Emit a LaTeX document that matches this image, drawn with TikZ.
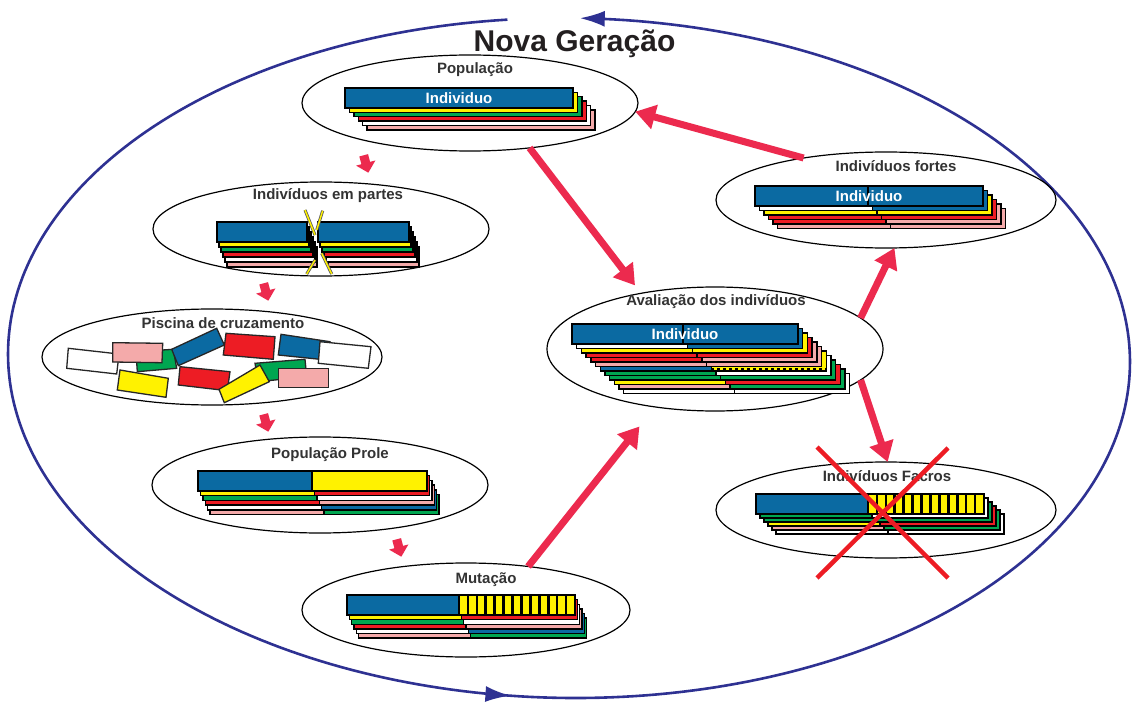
\documentclass[tikz,border=0pt]{standalone}
\usepackage{fontspec}
\setmainfont{Liberation Sans}
\usetikzlibrary{shapes.geometric,arrows.meta,decorations.markings}
\definecolor{gblue}{HTML}{0B6AA2}
\definecolor{gyellow}{HTML}{FFF200}
\definecolor{ggreen}{HTML}{00A651}
\definecolor{gred}{HTML}{ED1C24}
\definecolor{gpink}{HTML}{F4AAAA}
\definecolor{arrred}{HTML}{EC2A4E}
\definecolor{loopblue}{HTML}{2E3192}
\definecolor{txtgray}{HTML}{333333}
\definecolor{titlecol}{HTML}{231F20}
\tikzset{
  ell/.style={draw=black, line width=1.2pt, ellipse, inner sep=0pt, outer sep=0pt},
  lbl/.style={font=\fontsize{15}{18}\selectfont\bfseries, text=txtgray, inner sep=0pt, anchor=base},
  indiv/.style={font=\fontsize{15}{18}\selectfont\bfseries, text=white, inner sep=0pt, anchor=base},
  titlestyle/.style={font=\fontsize{30}{36}\selectfont\bfseries, text=titlecol, inner sep=0pt, anchor=base},
  stk/.style={draw=black, line width=1.4pt},
  pool/.style={draw=black!85, line width=1.3pt},
  bigarrow/.style={draw=arrred, line width=7pt, -{Triangle[length=20pt,width=24pt]}},
  outerloop/.style={draw=loopblue, line width=2.6pt},
  looptip/.style={Latex[length=25pt,width=16pt]},
  cutout/.style={draw=black!65, line width=3pt},
  cutin/.style={draw=gyellow, line width=1.4pt},
  xline/.style={draw=gred, line width=4.5pt},
  smallarr/.pic={\fill[arrred] (-4.5,-9) -- (4.5,-9) -- (4.5,-1) -- (10,-1) -- (0,9) -- (-10,-1) -- (-4.5,-1) -- cycle;},
}
% x0 y0 w s dx dy list(i/left/right)
\newcommand{\gastack}[7]{%
  \foreach \i/\colL/\colR in {#7}{%
    \filldraw[stk,fill=\colL] ({#1+\i*#5},{#2+\i*#6}) rectangle ++(#4,20);
    \filldraw[stk,fill=\colR] ({#1+\i*#5+#4},{#2+\i*#6}) rectangle ({#1+\i*#5+#3},{#2+\i*#6+20});
  }}
% x0 y0 s wr
\newcommand{\gastripes}[4]{%
  \foreach \k in {1,...,12}{\draw[line width=2.6pt] ({#1+#3+\k*#4/13},#2) -- ++(0,20);}}

\begin{document}
\begin{tikzpicture}[x=1pt,y=-1pt]
\fill[white] (0,0) rectangle (1136,706);
\useasboundingbox (0,0) rectangle (1136,706);

% outer loop
\draw[outerloop, -{Latex[length=25pt,width=16pt]},
  decoration={markings, mark=at position 0.47 with {\arrow{Latex[length=25pt,width=16pt]}}},
  postaction=decorate]
  plot[domain=96.3:448.9, samples=300, variable=\t] ({569+561*cos(\t)},{358-340*sin(\t)+4*cos(\t)});

\node[titlestyle] (title) at (574.5,52) {Nova Geração};

% ellipses
\node[ell, minimum width=336pt, minimum height=96pt] (pop) at (470,103) {};
\node[ell, minimum width=336pt, minimum height=94pt] (partes) at (321,229) {};
\node[ell, minimum width=340pt, minimum height=96pt] (pisc) at (212,357) {};
\node[ell, minimum width=336pt, minimum height=96pt] (prole) at (320,485) {};
\node[ell, minimum width=328pt, minimum height=94pt] (mut) at (466,610) {};
\node[ell, minimum width=336pt, minimum height=124pt] (aval) at (715,349) {};
\node[ell, minimum width=340pt, minimum height=96pt] (fortes) at (886,200) {};
\node[ell, minimum width=340pt, minimum height=96pt] (fracos) at (886,510) {};

% labels
\node[lbl] (poplbl) at (475,74) {População};
\node[lbl] (parteslbl) at (328,200) {Indivíduos em partes};
\node[lbl] (pisclbl) at (223,328) {Piscina de cruzamento};
\node[lbl] (prolelbl) at (330,458) {População Prole};
\node[lbl] (mutlbl) at (486,583) {Mutação};
\node[lbl] (avallbl) at (716,305) {Avaliação dos indivíduos};
\node[lbl] (forteslbl) at (896,172) {Indivíduos fortes};
\node[lbl] (fracoslbl) at (887,481) {Indivíduos Facros};

% População
\gastack{345}{88}{228}{228}{4.4}{4.4}{5/gpink/gpink,4/white/white,3/gred/gred,2/ggreen/ggreen,1/gyellow/gyellow,0/gblue/gblue}
\node[indiv] (popind) at (459,104) {Individuo};

% Indivíduos em partes
\gastack{217}{222}{90}{90}{2}{5}{5/gpink/gpink,4/white/white,3/gred/gred,2/ggreen/ggreen,1/gyellow/gyellow,0/gblue/gblue}
\gastack{318}{222}{91}{91}{2}{5}{5/gpink/gpink,4/white/white,3/gred/gred,2/ggreen/ggreen,1/gyellow/gyellow,0/gblue/gblue}
\draw[cutout] (305,210) -- (315,235);
\draw[cutin] (305,210) -- (315,235);
\draw[cutout] (322.7,210.7) -- (316.7,230);
\draw[cutin] (322.7,210.7) -- (316.7,230);
\draw[cutout] (306.7,274) -- (315,260);
\draw[cutin] (306.7,274) -- (315,260);
\draw[cutout] (331.7,274) -- (321.7,253.3);
\draw[cutin] (331.7,274) -- (321.7,253.3);

% Piscina de cruzamento
\filldraw[pool,fill=ggreen] (136,351.7) -- (173.3,349.3) -- (176.7,368.3) -- (137.3,371.7) -- cycle;
\filldraw[pool,fill=white] (68.3,348.3) -- (119,354) -- (116.7,374) -- (66.7,368.3) -- cycle;
\filldraw[pool,fill=gpink] (112.7,342.7) -- (162.7,343.3) -- (162,362.7) -- (112.7,362) -- cycle;
\filldraw[pool,fill=gblue] (171.7,349.3) -- (216.7,328.3) -- (224.3,345) -- (178.3,365.7) -- cycle;
\filldraw[pool,fill=gyellow] (120,370) -- (168.3,378.3) -- (166,397.3) -- (117.3,390) -- cycle;
\filldraw[pool,fill=gred] (180,366.7) -- (230,371.7) -- (227.3,390.7) -- (178.3,385) -- cycle;
\filldraw[pool,fill=gred] (226,333.3) -- (275,336.7) -- (273.3,359.3) -- (223.3,355) -- cycle;
\filldraw[pool,fill=ggreen] (255,363.3) -- (305,359.3) -- (306.7,376.7) -- (258.3,381.7) -- cycle;
\filldraw[pool,fill=gyellow] (219,389.3) -- (260,365) -- (269.3,381.7) -- (224.3,402.7) -- cycle;
\filldraw[pool,fill=gblue] (281,334.3) -- (330,341.7) -- (326.7,360) -- (278.3,355) -- cycle;
\filldraw[pool,fill=white] (320,341.7) -- (371,346.7) -- (368.3,368.3) -- (318.3,363.3) -- cycle;
\filldraw[pool,fill=gpink] (278.3,368.3) -- (328.3,368.3) -- (328.3,387.3) -- (278.3,387.3) -- cycle;

% População Prole
\gastack{198}{471}{229}{114}{2.4}{4.7}{5/gpink/ggreen,4/white/gblue,3/gred/gpink,2/ggreen/white,1/gyellow/gred,0/gblue/gyellow}

% Mutação
\gastack{347}{595}{228}{112}{2.3}{4.6}{5/gpink/ggreen,4/white/gblue,3/gred/gpink,2/ggreen/white,1/gyellow/gred,0/gblue/gyellow}
\gastripes{347}{595}{112}{116}

% Avaliação
\gastack{572}{324}{226}{111}{4.7}{4.5}{11/white/white,10/gpink/ggreen,9/gyellow/gred,8/ggreen/ggreen,7/ggreen/white,6/gblue/gyellow}
\draw[black, line width=1.6pt, dash pattern=on 3pt off 3pt] ({572+6*4.7+111},{324+5*4.5+20+2.25}) -- ({572+6*4.7+226},{324+5*4.5+20+2.25});
\gastack{572}{324}{226}{111}{4.7}{4.5}{5/gpink/gpink,4/gred/gpink,3/gred/gred,2/gyellow/gyellow,1/white/gblue,0/gblue/gblue}
\node[indiv] (avalind) at (685,339.5) {Individuo};

% Indivíduos fortes
\gastack{755}{186}{228}{113}{4.5}{4.5}{5/gpink/gpink,4/gred/gpink,3/gred/gred,2/gyellow/gyellow,1/white/gblue,0/gblue/gblue}
\node[indiv] (forind) at (869,201) {Individuo};

% Indivíduos Facros
\gastack{756}{494}{228}{112}{4}{4}{5/white/white,4/gpink/ggreen,3/gyellow/gred,2/ggreen/ggreen,1/ggreen/white,0/gblue/gyellow}
\gastripes{756}{494}{112}{116}
\draw[xline] (817,447) -- (948,578);
\draw[xline] (948,448) -- (817,578);

% big arrows
\draw[bigarrow, shorten >=10pt] (pop.-37) -- (aval.143);
\draw[bigarrow] (aval.12) -- (fortes.-80);
\draw[bigarrow] (fortes.153) -- (pop.-3);
\draw[bigarrow] (aval.-12) -- (fracos.88);
\draw[bigarrow, shorten >=25pt] (mut.35) -- (aval.-136);

% small arrows
\pic[rotate=15] at (366,164) {smallarr};
\pic[rotate=15] at (266,292) {smallarr};
\pic[rotate=15] at (266,423) {smallarr};
\pic[rotate=15] at (399,548) {smallarr};
\end{tikzpicture}
\end{document}
